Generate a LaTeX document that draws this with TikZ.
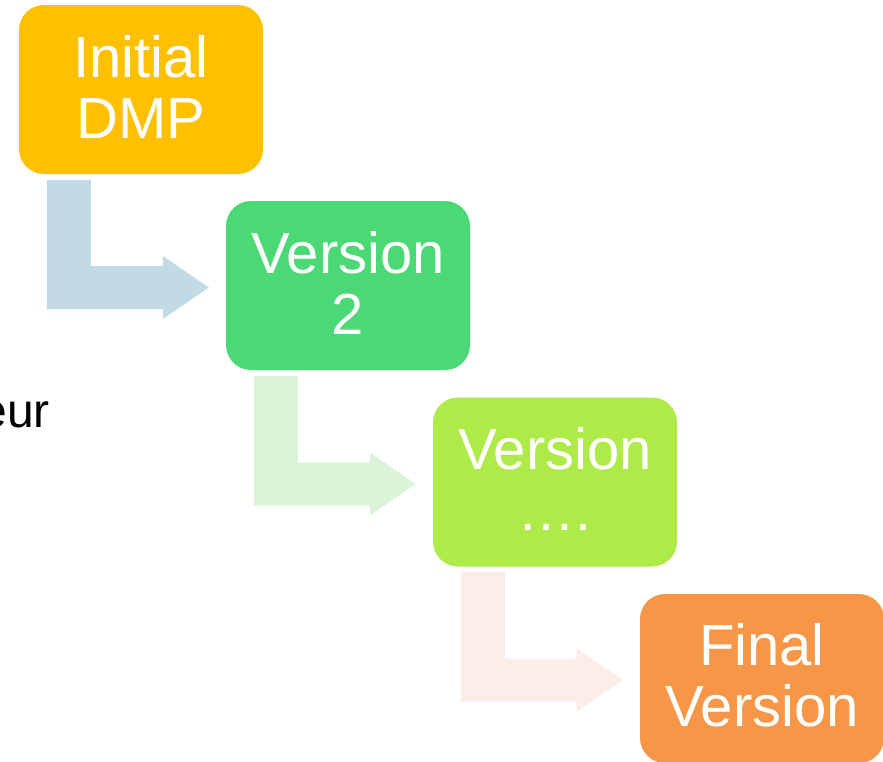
\documentclass[tikz,border=0pt]{standalone}
\usepackage{fontspec}
\setmainfont{Liberation Sans}
\usetikzlibrary{calc}

\definecolor{stageGold}{HTML}{FFC000}
\definecolor{stageGreen}{HTML}{4AD974}
\definecolor{stageLime}{HTML}{AEEA48}
\definecolor{stageOrange}{HTML}{F79646}
\definecolor{flowBlue}{HTML}{C1DAE3}
\definecolor{flowGreen}{HTML}{DBF4D9}
\definecolor{flowPink}{HTML}{FBEDE7}

\tikzset{
  stage/.style={rectangle, rounded corners=25pt, minimum width=244pt,
    minimum height=169pt, inner sep=0pt},
  stagetext/.style={text=white, align=center, inner sep=0pt,
    font=\fontsize{58}{61}\selectfont},
  sidetext/.style={text=black, inner sep=0pt,
    font=\fontsize{48}{58}\selectfont},
}

% Bent (down, then right) block arrow from below one stage to the next.
% #1 = start coordinate (top-left of the vertical bar), #2 = tip, #3 = colour
\newcommand{\stagearrow}[3]{%
  \fill[#3] (#1) -- ($(#1)+(44,0)$) -- ($(#2 -| #1)+(44,-21.5)$)
    -- ($(#2)+(-46,-21.5)$) -- ($(#2)+(-46,-31.5)$) -- (#2)
    -- ($(#2)+(-46,31.5)$) -- ($(#2)+(-46,21.5)$)
    -- ($(#2 -| #1)+(0,21.5)$) -- cycle;}

\begin{document}
\begin{tikzpicture}[x=1pt,y=-1pt]
  \useasboundingbox (0,0) rectangle (883,761);
  \clip (0,0) rectangle (883,761);
  \fill[white] (0,0) rectangle (883,761);

  % stage boxes
  \node[stage, fill=stageGold]   (init)  at (141,89.5)  {};
  \node[stage, fill=stageGreen]  (v2)    at (348,285.5) {};
  \node[stage, fill=stageLime]   (vn)    at (555,482)   {};
  \node[stage, fill=stageOrange] (final) at (762,678.5) {};

  % stage labels
  \node[stagetext] (initT)  at ($(init)+(0,-3)$)  {Initial\\DMP};
  \node[stagetext] (v2T)    at ($(v2)+(0,-3)$)    {Version\\2};
  \node[stagetext] (vnT)    at ($(vn)+(0,-3)$)    {Version\\….};
  \node[stagetext] (finalT) at ($(final)+(0,-3)$) {Final\\Version};

  % connectors between the stages
  \coordinate (s1) at ($(init.south west)+(28,6)$);
  \coordinate (t1) at ($(v2.west)+(-17,2)$);
  \coordinate (s2) at ($(v2.south west)+(28,6)$);
  \coordinate (t2) at ($(vn.west)+(-17,2)$);
  \coordinate (s3) at ($(vn.south west)+(28,5)$);
  \coordinate (t3) at ($(final.west)+(-17,1.5)$);
  \stagearrow{s1}{t1}{flowBlue}
  \stagearrow{s2}{t2}{flowGreen}
  \stagearrow{s3}{t3}{flowPink}

  % text running in from the left edge
  \node[sidetext, anchor=base east] (side) at (50,427) {eur};
\end{tikzpicture}
\end{document}
